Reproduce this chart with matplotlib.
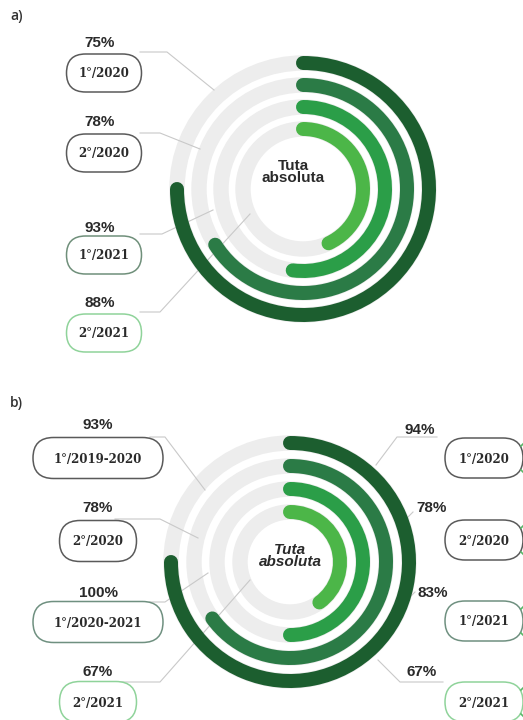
import matplotlib
matplotlib.use("Agg")
import matplotlib.pyplot as plt
from matplotlib.patches import Arc, Circle, FancyBboxPatch

# ---------------- data ----------------
ring_colors = ["#1c5e2f", "#2b7b46", "#2b9e48", "#4cb648"]

a_pcts = ["75%", "78%", "93%", "88%"]
a_labels = ["1°/2020", "2°/2020", "1°/2021", "2°/2021"]
a_arc_fraction = [0.75, 0.66, 0.52, 0.43]

b_left_pcts = ["93%", "78%", "100%", "67%"]
b_left_labels = ["1°/2019-2020", "2°/2020", "1°/2020-2021", "2°/2021"]
b_right_pcts = ["94%", "78%", "83%", "67%"]
b_right_labels = ["1°/2020", "2°/2020", "1°/2021", "2°/2021"]
b_arc_fraction = [0.75, 0.65, 0.50, 0.40]

center_text = "Tuta\nabsoluta"

# ---------------- figure ----------------
W, H = 523, 720
fig = plt.figure(figsize=(W / 100, H / 100), dpi=100)
ax = fig.add_axes([0, 0, 1, 1])
ax.set_xlim(0, W)
ax.set_ylim(H, 0)
ax.axis("off")

GRAY_RING = "#ededed"
LINE = "#c9c9c9"
TXT = "#2a2a2a"
BAND_PX = 14
band_pt = BAND_PX * 72 / 100


def rings(cx, cy, radii, fractions):
    for r, f, c in zip(radii, fractions, ring_colors):
        ax.add_patch(Circle((cx, cy), r, fill=False, ec=GRAY_RING, lw=band_pt + 1, zorder=1))
        arc = Arc((cx, cy), 2 * r, 2 * r, theta1=-90, theta2=-90 + f * 360,
                  color=c, lw=band_pt, zorder=3)
        arc.set_capstyle("round")
        ax.add_patch(arc)


def pill(xc, yc, w, h, text, ec):
    ax.add_patch(FancyBboxPatch((xc - w / 2, yc - h / 2), w, h,
                                boxstyle=f"round,pad=0,rounding_size={h / 2}",
                                fc="white", ec=ec, lw=1.1, zorder=4))
    ax.text(xc, yc + 1, text, ha="center", va="center", fontsize=8.5,
            family="DejaVu Serif", weight="bold", color=TXT, zorder=5)


def pct(x, y, text):
    ax.text(x, y, text, ha="center", va="center", fontsize=11,
            family="Liberation Sans", weight="bold", color=TXT, zorder=5)


def leader(pts):
    xs, ys = zip(*pts)
    ax.plot(xs, ys, color=LINE, lw=0.8, zorder=2)


# ---------------- panel a ----------------
ax.text(10, 16, "a)", fontsize=10, family="Open Sans", weight="semibold",
        color="#333333", va="center")
cxa, cya = 303, 189
rings(cxa, cya, [126, 104, 82, 60], a_arc_fraction)
ax.text(cxa - 10, 172, center_text, ha="center", va="center", fontsize=11,
        family="Liberation Sans", weight="bold", color=TXT, zorder=5, linespacing=0.9)

a_pct_y = [43, 122, 228, 303]
a_box_y = [73, 153, 255, 333]
a_edges = ["#5a5a5a", "#5a5a5a", "#6f8f7a", "#8fd39a"]
a_leaders = [
    [(140, 52), (167, 52), (214, 90)],
    [(140, 133), (160, 133), (200, 149)],
    [(140, 234), (162, 234), (213, 210)],
    [(140, 312), (160, 312), (250, 214)],
]
for p, lab, yp, yb, ec, ld in zip(a_pcts, a_labels, a_pct_y, a_box_y, a_edges, a_leaders):
    leader(ld)
    pct(100, yp, p)
    pill(104, yb, 75, 38, lab, ec)

# ---------------- panel b ----------------
ax.text(10, 403, "b)", fontsize=10, family="Open Sans", weight="semibold",
        color="#333333", va="center")
cxb, cyb = 290, 562
rings(cxb, cyb, [119, 96, 73, 50], b_arc_fraction)
ax.text(cxb, 556, center_text, ha="center", va="center", fontsize=11,
        family="Liberation Sans", weight="bold", style="italic", color=TXT,
        zorder=5, linespacing=0.9)

bl_pct_y = [425, 508, 593, 672]
bl_box_y = [458, 541, 622, 702]
bl_w = [130, 77, 130, 77]
bl_edges = ["#5a5a5a", "#5a5a5a", "#6f9080", "#8fd39a"]
bl_leaders = [
    [(150, 437), (165, 437), (205, 490)],
    [(115, 519), (160, 519), (198, 538)],
    [(150, 602), (165, 602), (208, 573)],
    [(110, 682), (160, 682), (250, 580)],
]
for p, lab, yp, yb, w, ec, ld in zip(b_left_pcts, b_left_labels, bl_pct_y, bl_box_y,
                                      bl_w, bl_edges, bl_leaders):
    leader(ld)
    pct(98, yp, p)
    pill(98, yb, w, 41, lab, ec)

br_pct_x = [420, 432, 433, 422]
br_pct_y = [430, 508, 593, 672]
br_box_y = [458, 540, 621, 702]
br_edges = ["#5a5a5a", "#5a5a5a", "#6f9080", "#8fd39a"]
br_leaders = [
    [(437, 437), (397, 437), (376, 465)],
    [(413, 512), (405, 520)],
    [(415, 592), (407, 600)],
    [(443, 682), (400, 682), (378, 660)],
]
for p, lab, xp, yp, yb, ec, ld in zip(b_right_pcts, b_right_labels, br_pct_x, br_pct_y,
                                       br_box_y, br_edges, br_leaders):
    leader(ld)
    pct(xp, yp, p)
    pill(484, yb, 78, 40, lab, ec)
    ax.plot([521, 523], [yb - 12, yb - 14], color="#58b868", lw=1.2, zorder=6)
    ax.plot([521, 523], [yb + 12, yb + 14], color="#58b868", lw=1.2, zorder=6)

fig.savefig("out.png", dpi=100, facecolor="white")
